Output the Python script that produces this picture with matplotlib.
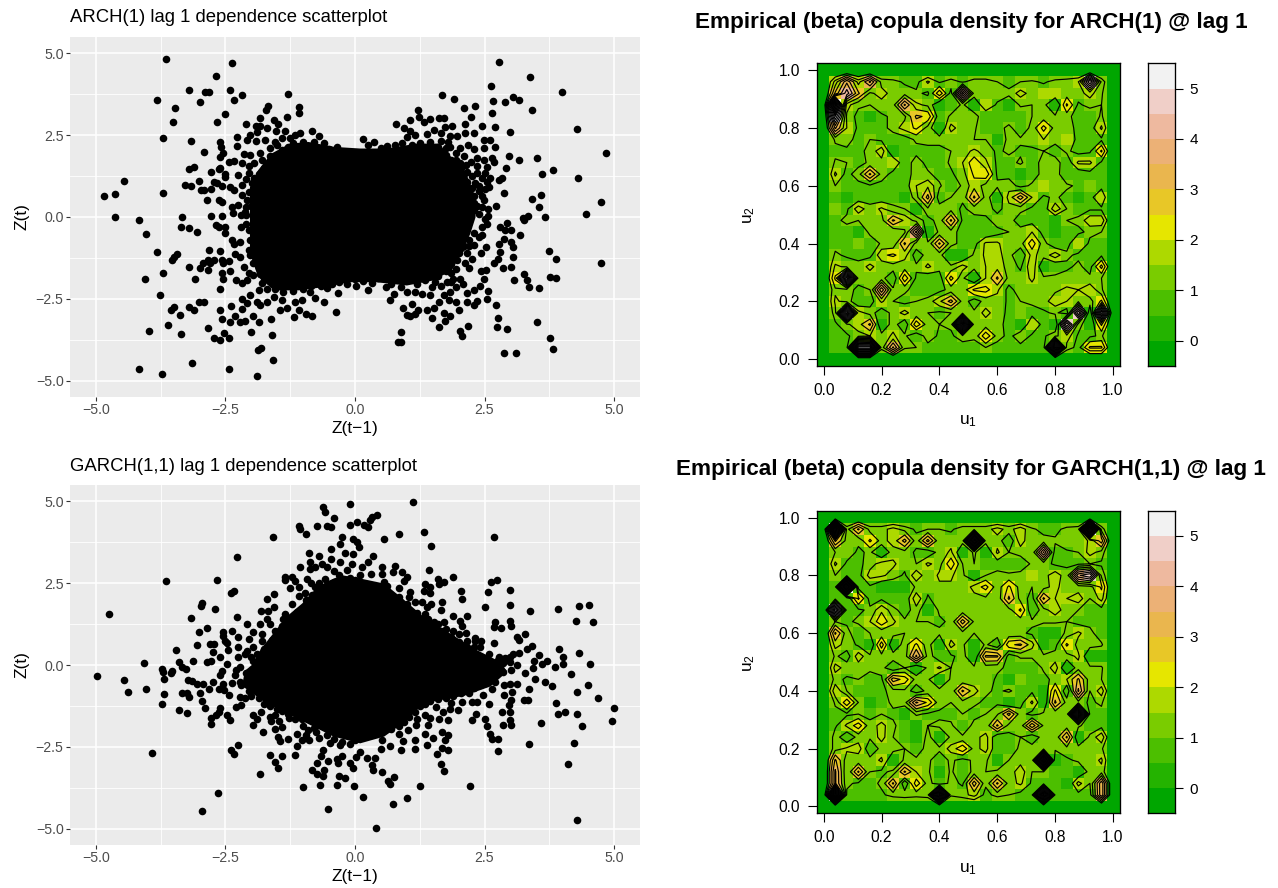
import numpy as np
import matplotlib
matplotlib.use("Agg")
import matplotlib.pyplot as plt
from matplotlib.colors import ListedColormap, BoundaryNorm

plt.rcParams['font.family'] = ['Liberation Sans', 'DejaVu Sans']
plt.rcParams['mathtext.default'] = 'regular'

W, H = 1278, 888

# ---------- scatter data: every separately visible point ----------
arch_points = [
(-3.65,4.83),(-2.37,4.72),(-2.68,4.31),(-3.20,3.87),(-2.89,3.82),(-2.82,3.82),(-2.41,3.87),(-2.19,3.74),(-3.82,3.57),(-3.48,3.34),
(-3.0,3.5),(-2.34,3.56),(-2.5,3.15),(-3.52,2.9),(-2.67,2.89),(-3.70,2.42),(-3.17,2.33),(-2.6,2.29),(-2.59,2.15),(-2.91,1.98),
(-2.54,1.95),(-2.6,1.83),(-2.44,1.69),(-2.34,1.71),(-3.11,1.54),(-3.2,1.46),(-2.78,1.36),(-2.63,1.46),(-2.6,1.51),(-2.5,1.32),
(-2.5,1.21),(-4.45,1.11),(-4.63,.69),(-4.85,.63),(-3.71,.73),(-3.29,.98),(-3.16,.96),(-3.02,1.11),(-2.98,.83),(-2.92,.81),
(-2.77,.87),(-2.73,1.08),(-2.66,1.03),(-2.57,.95),(-2.41,.93),(-2.34,.83),(-2.86,.52),(-2.63,.52),(-2.57,.47),(-4.64,.01),
(-3.34,.01),(-2.77,.04),(-2.57,.03),(-4.16,-.09),(-2.37,.3),(-2.36,.13),(-2.1,2.85),(-1.92,2.79),(-1.84,2.77),(-1.84,3.03),
(-1.72,3.26),(-1.67,3.4),(-1.56,2.95),(-1.49,2.85),(-1.53,2.64),(-1.7,2.71),(-1.29,3.76),(-1.08,3.35),(-1.09,3.17),(-1.31,3.05),
(-1.36,2.64),(-2.27,2.44),(-2.28,2.17),(-2.08,2.36),(-2.03,2.5),(-1.89,2.61),(-1.92,2.31),(-1.73,2.36),(-1.41,2.41),(-1.51,2.2),
(-1.15,2.51),(-1.06,2.58),(-.83,2.64),(-.7,2.48),(-.51,2.08),(-.15,1.97),(-2.15,1.93),(-2.18,1.64),(-2.02,1.9),(-1.83,1.95),
(-2.25,1.29),(-2.05,1.34),(-2.18,.98),(-1.99,1.03),(-2.18,.67),(-2.08,.52),(-2.25,.37),(-2.12,.16),
(2.77,4.74),(3.38,4.29),(2.63,3.99),(3.99,3.83),(1.67,3.74),(1.91,3.6),(2.1,3.32),(2.32,3.38),(2.66,3.54),(2.89,3.51),
(3.05,3.66),(3.17,3.56),(3.42,3.28),(2.64,3.17),(4.29,2.7),(2.46,2.79),(2.7,2.74),(3.0,2.59),(4.84,1.95),(2.97,1.85),
(3.17,1.74),(3.51,1.79),(2.92,1.51),(3.82,1.44),(3.6,1.3),(4.31,1.18),(2.77,1.13),(2.84,1.18),(2.87,.72),(3.58,.68),
(3.41,.55),(3.55,.32),(4.74,.45),(4.45,.08),(2.73,.34),(2.56,.23),(2.56,.03),(3.67,.01),(3.34,.03),(3.25,-.04),
(1.21,3.27),(1.24,3.07),(1.07,2.97),(.79,2.84),(.94,2.71),(1.07,2.64),(1.33,2.89),(1.45,2.99),(1.62,3.01),(1.72,3.02),
(1.73,2.76),(1.88,2.79),(2.13,2.85),(2.23,3.05),(2.13,2.56),(2.29,2.56),(.15,2.39),(.37,2.28),(.62,2.17),(.78,2.2),
(1.0,2.43),(1.16,2.51),(1.39,2.53),(1.52,2.66),(1.65,2.56),(1.65,2.31),(1.84,2.46),(1.97,2.46),(1.84,2.15),(2.03,2.1),
(2.19,2.2),(2.29,2.07),(2.48,2.36),(2.6,2.34),(2.71,2.15),(2.48,2.1),(2.64,1.8),(2.68,1.69),(2.36,1.8),(2.48,1.74),
(2.55,1.54),(1.94,1.74),(2.03,1.64),(2.23,1.69),(2.16,1.39),(2.36,1.34),(2.55,1.08),(2.58,.93),(2.16,1.08),(2.32,1.05),
(2.19,.78),(2.39,.78),(2.48,.52),(2.29,.42),(1.97,1.34),(2.03,.83),
(-4.03,-.53),(-3.35,-.3),(-3.2,-.35),(-3.04,-.45),(-2.68,-.25),(-2.63,-.3),(-2.5,-.3),(-2.5,-.48),(-2.37,-.7),(-2.34,-.81),
(-2.21,-.76),(-2.02,-.7),(-3.82,-1.07),(-3.44,-1.14),(-3.49,-1.21),(-3.53,-1.32),(-2.81,-1.01),(-2.61,-1.04),(-2.31,-1.14),(-2.21,-1.21),
(-2.05,-1.01),(-2.02,-1.16),(-2.83,-1.32),(-2.73,-1.3),(-2.79,-1.42),(-2.57,-1.3),(-2.44,-1.35),(-2.54,-1.42),(-3.21,-1.53),(-2.94,-1.42),
(-3,-1.57),(-2.84,-1.62),(-3.71,-1.7),(-4.05,-1.89),(-3.08,-1.89),(-2.41,-1.64),(-2.56,-1.72),(-2.54,-1.89),(-2.29,-1.93),(-2.18,-2.03),
(-2.08,-1.93),(-1.96,-1.78),(-2.15,-1.52),(-1.96,-1.42),(-1.83,-1.73),(-3.76,-2.39),(-2.6,-2.21),(-2.02,-2.39),(-2.18,-2.52),(-2.08,-2.64),
(-2.18,-2.8),(-1.86,-2.24),(-1.89,-2.59),(-1.83,-2.69),(-1.8,-2.03),(-3.01,-2.6),(-2.92,-2.61),(-3.21,-2.76),(-3.1,-2.85),(-3.49,-2.75),
(-3.56,-2.85),(-2.6,-2.83),(-2.39,-2.73),(-3.38,-3.0),(-2.57,-3.13),(-2.41,-3.2),(-2.32,-3.02),(-3.61,-3.3),(-3.36,-3.57),(-3.98,-3.49),
(-2.83,-3.4),(-2.73,-3.71),(-2.6,-3.76),(-2.52,-3.54),(-2.44,-3.7),(-2.21,-3.2),(-2.12,-3.17),(-1.96,-3.03),(-1.86,-3.22),(-2.0,-3.51),
(-1.63,-3.12),(-1.6,-3.61),(-1.87,-4.05),(-1.81,-3.99),(-1.58,-4.36),(-3.14,-4.46),(-4.16,-4.65),(-3.72,-4.81),(-2.44,-4.65),(-1.9,-4.86),
(-1.7,-2.59),(-1.57,-2.44),(-1.41,-2.54),(-1.44,-2.83),(-1.31,-2.77),(-1.18,-3.07),(-1.09,-2.85),(-.94,-2.95),(-.83,-3.01),(-.37,-2.91),
(-.6,-2.6),(-.77,-2.49),(-1.15,-2.59),(-1.02,-2.54),(-.33,-2.32),(-.54,-2.18),(-1.57,-2.08),(-1.38,-2.29),(-.86,-2.29),
(4.75,-1.41),(3.75,-1.05),(3.88,-1.27),(3.77,-1.83),(3.88,-1.86),(3.27,-1.75),(3.32,-1.91),(3.35,-2.13),(3.56,-2.16),(3.51,-3.2),
(3.76,-3.71),(3.82,-4.03),(2.87,-4.16),(3.11,-4.16),(2.93,-3.43),(2.74,-3.36),(2.76,-3.08),(2.72,-2.68),(2.55,-2.5),(2.57,-2.26),
(2.48,-1.9),(2.42,-2.1),(2.3,-2.24),(2.16,-2.32),(2.36,-2.56),(2.3,-2.68),(2.17,-2.6),(2.43,-1.64),(2.52,-1.62),(2.86,-1.56),
(3.02,-1.53),(3.06,-1.93),(3.04,-1.21),(2.79,-1.08),(2.76,-1.27),(2.69,-1.42),(3.02,-.76),(3.05,-.91),(2.77,-.81),(2.88,-.68),
(2.52,-.91),(2.43,-1.09),(2.16,-1.11),(2.13,-1.42),(2.26,-1.27),(2.1,-.89),(2.45,-.55),(3.18,-.55),(3.02,-.40),(2.8,-.3),
(2.9,-.4),(2.93,-.19),(3.27,-.09),(1.97,-1.31),(1.94,-1.6),(2.03,-1.88),(2.08,-2.05),(1.94,-2.13),(1.84,-2.29),(1.81,-2.54),
(1.94,-2.59),(2.0,-2.85),(1.62,-2.59),(1.52,-2.78),(1.39,-2.85),(1.72,-2.93),(1.84,-3.03),(1.49,-3.1),(1.74,-3.18),(1.62,-3.36),
(2.02,-3.48),(2.18,-3.34),(2.07,-3.65),(1.22,-2.83),(1.16,-2.95),(1.07,-3.03),(1.0,-3.0),(1.1,-2.67),(.93,-2.78),(.89,-3.52),
(.88,-3.83),(.83,-3.83),(.67,-2.54),(.75,-2.34),(.59,-2.13),(.26,-2.23),(.01,-2.12),(.33,-2.01),(.88,-2.13),(1.0,-2.29),
(1.16,-2.29),(1.29,-2.34),(1.49,-2.13),(1.45,-2.39),(1.71,-2.39),(1.78,-1.98),(1.36,-1.93),
# dense ring around the solid mass
(1.75,1.9),(1.85,1.75),(1.9,1.45),(2.0,1.2),(2.1,1.3),(2.25,1.25),(2.45,1.2),(2.5,1.35),(2.1,.95),(2.25,.9),(2.4,.95),(2.5,.85),
(2.15,.65),(2.3,.65),(2.45,.65),(2.2,.45),(2.35,.35),(2.45,.3),(2.3,.2),(2.4,.1),(1.8,2.3),(1.6,2.15),(1.45,2.3),(1.25,2.25),
(1.1,2.2),(.9,2.25),(.5,2.1),(.25,2.2),(1.75,2.1),(1.95,1.95),(2.1,1.85),(2.15,1.6),(2.35,1.55),(2.05,1.5),(2.6,1.2),(1.95,.85),
(-1.6,1.6),(-1.75,1.5),(-1.85,1.3),(-1.95,1.2),(-2.1,1.15),(-1.95,.9),(-2.05,.75),(-1.85,.85),(-1.75,1.1),(-1.9,.65),(-2.0,.35),(-1.9,.3),
(-2.1,.3),(-1.95,.1),(-1.85,.05),(-2.1,.05),(-2.2,.05),(-1.5,1.9),(-1.65,1.85),(-1.4,2.05),(-1.3,2.15),(-1.2,2.25),(-1.65,2.1),(-1.8,1.75),
(-1.95,1.65),(-2.05,1.55),(-1.55,2.3),(-1.0,2.3),(-.8,2.3),(-.6,2.25),(-.35,2.15),(-1.25,2.4),
(-1.9,-.45),(-2.05,-.4),(-1.95,-.2),(-2.1,-.2),(-2.2,-.3),(-1.85,-.7),(-1.95,-.85),(-1.85,-1.0),(-1.95,-1.15),(-1.85,-1.3),(-1.75,-1.4),(-1.7,-1.6),
(-1.6,-1.8),(-1.75,-1.85),(-1.65,-1.95),(-1.55,-2.2),(-1.4,-2.15),(-1.2,-2.25),(-1.0,-2.2),(-.85,-2.1),(-.65,-2.1),(-.45,-2.05),(-.3,-2.0),(-.15,-2.05),
(-1.7,-2.2),(-1.85,-1.55),(-2.05,-1.7),
(.0,-1.9),(.15,-1.95),(.45,-1.85),(.6,-1.85),(.75,-1.8),(.95,-1.85),(1.1,-1.85),(1.2,-2.05),(1.3,-1.85),(1.5,-1.8),(1.6,-1.8),(1.75,-1.65),
(1.85,-1.7),(1.85,-1.45),(2.0,-1.1),(2.05,-.95),(2.2,-.7),(2.3,-.85),(2.4,-.6),(2.3,-.5),(2.45,-.3),(2.55,-.2),(2.5,-.05),(2.2,-.9),
(1.55,-2.0),(.7,-2.05),(1.65,-2.1),(1.9,-1.9),(1.85,-2.0),(2.2,-1.55),
]
# outline of the solid mass where points overlap completely
arch_core_x = [-2.0,-2.0,-1.85,-1.6,-1.25,-.9,-.4,.1,.6,1.2,1.6,1.9,2.15,2.3,2.3,2.2,2.05,1.85,1.5,1.0,.4,-.1,-.6,-1.1,-1.55,-1.85,-2.0]
arch_core_y = [.1,.9,1.4,1.9,2.2,2.25,2.1,2.05,2.05,2.2,2.2,1.7,1.2,.6,.0,-.5,-1.0,-1.6,-1.9,-2.05,-1.95,-1.95,-2.1,-2.2,-2.2,-1.8,-1.1]

garch_points = [
(-4.75,1.56),(-3.65,2.58),(-2.67,2.6),(-2.28,3.29),(-1.59,3.9),(-2.34,2.27),(-2.39,2.19),(-2.96,1.88),(-2.97,1.8),(-2.7,1.71),
(-3.16,1.43),(-2.27,1.47),(-2.85,1.13),(-3.01,1.02),(-2.37,1.05),(-2.09,1.25),(-2.54,1.0),(-2.54,.9),(-2.5,.74),(-2.47,.66),
(-3.04,.62),(-2.79,.63),(-2.73,.63),(-3.45,.46),(-2.74,.39),(-2.45,.47),(-3.13,.11),(-4.08,.06),(-3.4,.08),(-3.34,-.07),
(-3.27,-.12),(-3.73,-.12),(-3.53,-.19),(-2.86,.08),(-2.77,.11),(-2.6,.23),(-2.47,.03),(-2.21,-.07),(-2.57,-.17),(-2.25,.85),
(-2.05,.79),(-1.96,1.0),(-1.83,1.25),(-1.81,1.66),(-1.67,1.66),(-1.57,1.76),(-1.7,2.02),(-1.57,2.17),(-1.22,1.86),(-1.35,1.56),
(-1.12,1.61),(-1.39,1.41),(-1.7,1.41),(-1.65,1.25),(-2.25,.54),(-2.12,.34),(-2.25,.23),(-2.08,.44),(-1.96,.54),(-1.8,.74),
(-1.96,.13),(-1.36,2.7),(-1.36,2.6),(-1.22,2.68),(-1.15,2.58),(-1.25,2.35),(-1.09,2.37),(-1.09,2.12),(-.96,2.19),(-.83,2.15),
(-.77,2.37),(-.93,2.63),(-1.06,3.0),(-.86,3.14),(-.86,2.93),(-.77,2.98),(-.89,3.43),(-.7,3.34),(-.64,3.09),(-.54,2.98),
(-.46,3.53),(-.46,3.24),(-.41,2.88),(-.28,3.14),(-.19,3.41),(-.28,3.7),(-.26,3.92),(-.09,4.29),(-.1,4.92),(-1.09,4.26),
(-1.07,4.15),(-.95,4.0),(-.73,4.26),(-.54,4.26),(-.46,4.21),(-.62,4.82),(-.57,4.66),(-.41,4.49),(-.57,2.63),(-.41,2.53),
(1.11,4.98),(.42,4.58),(.33,4.51),(.28,4.43),(.26,4.23),(.17,4.29),(.04,4.36),(.84,4.0),(.56,3.84),(1.34,4.05),
(1.47,3.65),(2.69,3.9),(-.03,3.85),(.04,3.75),(.08,3.62),(-.03,3.39),(.34,3.33),(.26,3.14),(.13,2.98),(.53,3.0),
(.78,3.03),(.73,2.83),(.91,2.83),(1.0,2.68),(.94,2.58),(1.42,2.91),(.3,2.78),(.53,2.78),(.55,2.53),(.62,2.42),
(1.89,2.7),(1.61,2.63),(1.62,2.47),(1.71,2.53),(1.36,2.47),(1.45,2.39),(1.45,2.19),(1.33,2.25),(2.63,2.55),(2.74,2.6),
(2.05,2.27),(2.07,2.02),(2.56,2.23),(2.99,2.29),(2.99,1.84),(2.5,1.76),(3.37,1.65),(3.92,1.7),(4.32,1.79),(4.51,1.84),
(4.27,1.35),(4.59,1.3),(3.94,.49),(4.32,.37),(4.54,.03),(4.01,.23),(4.01,.03),(3.85,-.07),(3.71,.11),(3.61,.03),
(3.55,.32),(3.45,.11),(3.44,-.09),(3.42,.57),(3.31,.49),(3.29,.95),(3.13,.87),(3.16,.76),(3.16,.37),(3.04,.34),
(3.0,.08),(3.13,.01),(2.77,.23),(2.68,.66),(2.43,.74),(2.32,.82),(2.31,.74),(2.71,1.32),(2.68,1.15),(2.81,1.12),
(2.99,1.33),(3.01,1.2),(2.16,1.51),(1.9,1.51),(2.03,1.33),(2.07,1.18),(1.72,1.3),(1.68,1.91),(1.66,1.68),(1.47,1.86),
(1.29,1.91),(1.15,1.91),(1.39,1.76),(1.36,1.56),(1.52,1.3),(1.9,1.05),(2.15,.97),(1.65,1.05),(1.42,1.25),(2.42,.54),
(2.16,.74),(2.58,.34),(2.48,.03),(2.16,.54),(1.07,2.24),(.84,2.35),(1.04,2.07),(.84,2.07),
(-4.97,-.35),(-4.45,-.47),(-4.39,-.84),(-4.03,-.74),(-3.72,-1.2),(-3.68,-.9),(-3.69,-.44),(-3.71,-.21),(-3.55,-.23),(-3.4,-1.38),
(-3.24,-1.48),(-3.33,-.85),(-3.24,-.85),(-3.2,-.98),(-3.23,-.45),(-3.15,-.5),(-3.05,-.59),(-2.94,-.59),(-3,-.86),(-2.96,-1.11),
(-2.89,-1.3),(-2.75,-.52),(-2.81,-.72),(-2.6,-.32),(-2.62,-.72),(-2.54,-.57),(-2.52,-.77),(-2.44,-.91),(-2.37,-.54),(-2.31,-.32),
(-2.21,-.52),(-2.6,-1.31),(-2.63,-1.44),(-2.78,-1.61),(-2.77,-1.79),(-2.68,-1.54),(-2.47,-1.52),(-2.42,-1.69),(-2.3,-1.28),(-2.2,-1.21),
(-2.21,-.98),(-2.12,-1.01),(-1.97,-1.54),(-1.9,-1.64),(-1.96,-1.82),(-1.81,-1.44),(-1.78,-2.05),(-1.65,-1.59),(-1.62,-1.72),(-1.54,-1.54),
(-1.47,-1.72),(-1.41,-1.9),(-1.54,-1.95),(-1.49,-2.2),(-1.45,-2.33),(-1.3,-2.25),(-2.25,-2.43),(-2.39,-2.61),(-2.34,-2.73),(-3.91,-2.68),
(-2.65,-3.91),(-2.96,-4.46),(-1.84,-3.34),(-1.65,-2.74),(-1.55,-2.96),(-1.48,-3.16),(-1.4,-2.78),(-1.15,-2.74),(-1.11,-2.49),(-1.12,-2.12),
(-1.02,-2.3),(-.94,-2.15),(-.88,-2.29),(-.69,-2.22),(-.48,-2.37),(-.62,-2.61),(-.65,-2.79),(-.73,-2.98),(-.53,-2.94),(-.83,-3.22),
(-.73,-3.34),(-.59,-3.2),(-.62,-3.4),(-.35,-2.88),(-.32,-3.0),(-.25,-2.78),(-.3,-3.39),(-.2,-3.44),(-.67,-3.68),(-.35,-3.68),
(-1.0,-3.74),(-.52,-4.39),(-.09,-2.98),(-.28,-2.45),(-.8,-1.93),(-1.02,-1.66),(-1.28,-1.62),(-1.25,-1.33),
(.41,-4.97),(4.29,-4.75),(4.11,-3.02),(-.01,-3.69),(.15,-4.02),(.74,-4.24),(1.01,-4.07),(1.26,-3.71),(2.21,-3.71),(.75,-3.42),
(.64,-3.55),(.67,-3.65),(.52,-3.27),(.34,-3.22),(.33,-3.07),(.39,-2.84),(.24,-2.84),(-.03,-3.14),(1.72,-3.24),(1.65,-3.01),
(1.58,-2.71),(1.68,-2.54),(1.79,-2.6),(1.73,-2.3),(1.79,-2.15),(1.67,-2.05),(1.51,-2.22),(1.38,-2.45),(1.36,-2.1),(1.41,-1.84),
(1.15,-2.3),(1.15,-2.56),(.88,-2.59),(.68,-2.47),(.5,-2.56),(.1,-2.66),(.01,-2.81),(.92,-2.33),(.52,-2.28),(.3,-2.15),
(.84,-2.1),(1.02,-2.0),(1.18,-1.82),(1.2,-1.64),(1.36,-1.54),(1.45,-1.61),(1.63,-1.64),(1.8,-1.67),(1.7,-1.44),(1.98,-1.39),
(1.84,-1.33),(1.57,-1.28),(2.25,-1.68),(2.34,-1.49),(2.5,-1.66),(2.55,-1.86),(2.61,-2.12),(2.64,-2.27),(2.75,-2.25),(2.76,-2.62),
(3.35,-2.41),(3.59,-1.77),(4.23,-2.37),(4.38,-1.86),(4.29,-1.49),(4.06,-1.43),(3.92,-1.49),(3.87,-1.15),(4.68,-1.02),(4.99,-1.32),
(4.95,-1.7),(4.49,-.6),(4.29,-.84),(4.17,-.27),(3.81,-.65),(3.66,-.52),(3.48,-.44),(3.35,-.72),(3.28,-.23),(3.27,-1.08),
(3.34,-1.08),(3.02,-.16),(3.0,-.57),(2.88,-.6),(3.13,-.57),(3.03,-.83),(2.88,-.91),(3.01,-1.08),(2.97,-1.23),(2.83,-1.45),
(3.0,-1.45),(2.99,-1.69),(3.02,-1.84),(2.86,-1.84),(2.47,-.93),(2.58,-1.18),(2.35,-1.13),(2.26,-1.13),(2.07,-1.13),(2.65,-.72),
(2.71,-.52),(2.23,-.42),(2.42,-.62),
# dense ring around the solid mass
(-1.75,.5),(-1.6,.75),(-1.5,.9),(-1.35,1.05),(-1.2,1.2),(-1.05,1.3),(-1.55,1.05),(-1.4,1.2),(-1.2,1.4),(-1.0,1.6),(-.9,1.85),(-.8,1.95),
(-.75,2.1),(-.65,2.3),(-.5,2.35),(-.4,2.4),(-.25,2.5),(-.1,2.65),(-.3,2.75),(-.7,2.5),(-1.9,.35),(-1.85,.15),(-2.0,.25),(-1.8,.95),
(-1.65,.55),(-.15,2.9),(-.05,3.1),(.1,2.75),(-.85,2.5),(-.95,2.0),
(0,2.6),(.1,2.45),(.2,2.35),(.35,2.3),(.5,2.2),(.65,2.1),(.7,1.95),(.85,2.0),(1.0,1.85),(1.05,1.65),(1.2,1.6),(1.25,1.4),
(1.4,1.4),(1.5,1.15),(1.6,1.25),(1.7,.95),(1.85,.85),(2.0,.7),(2.2,.35),(2.3,.3),(2.3,.55),(1.75,1.1),(2.0,.95),(2.4,.15),
(2.55,.1),(2.65,.0),(2.75,.15),(2.9,.2),(2.85,.05),(3.0,.25),
(-2.2,-.6),(-2.0,-.95),(-1.85,-1.0),(-1.75,-1.2),(-1.65,-1.25),(-1.5,-1.35),(-1.4,-1.4),(-1.3,-1.5),(-1.15,-1.65),(-1.0,-1.85),(-.9,-2.0),(-.75,-2.05),
(-.55,-2.15),(-.4,-2.25),(-.25,-2.35),(-.1,-2.4),(.0,-2.3),(-1.85,-.75),(-2.05,-.8),(-1.55,-1.15),(-2.3,-.15),(-2.1,-.25),
(.1,-2.2),(.2,-2.1),(.35,-2.05),(.55,-2.0),(.7,-1.95),(.85,-1.85),(.95,-1.75),(1.05,-1.6),(1.15,-1.45),(1.25,-1.25),(1.35,-1.2),(1.45,-1.1),
(1.6,-1.05),(1.75,-1.0),(1.9,-.95),(2.05,-.85),(2.2,-.85),(2.3,-.7),(2.45,-.45),(2.55,-.35),(2.65,-.3),(2.7,-.1),(2.85,-.2),(1.85,-1.15),
(2.2,-.6),(2.5,-.15),
]
garch_core_x = [-1.95,-1.8,-1.55,-1.3,-1.0,-.8,-.55,-.25,.1,.55,.9,1.3,1.75,2.3,2.8,2.9,2.6,2.1,1.3,1.0,.55,.1,-.4,-1.05,-1.7,-2.15,-2.1]
garch_core_y = [.0,.45,.95,1.45,1.85,2.2,2.5,2.7,2.6,2.45,2.0,1.45,1.0,.45,.05,-.2,-.62,-.9,-1.13,-1.64,-2.15,-2.35,-2.15,-1.64,-1.13,-.62,-.2]

scatter_ticks = [-5.0, -2.5, 0.0, 2.5, 5.0]
scatter_minor = [-3.75, -1.25, 1.25, 3.75]

# ---------- copula density estimates on the inner grid u = 0.04 ... 0.96, top row u2 = 0.96 ----------
arch_density = [
[1.7,3.4,1.8,3.1,1.3,1.2,.9,.8,1.6,.9,1.3,.9,1.3,1.3,1.0,.7,1.0,1.1,.9,1.2,1.3,1.5,4.5,1.4],
[2.6,4.3,2.6,1.4,1.7,1.3,1.3,1.1,.9,2.4,.8,4.3,1.3,1.0,1.3,1.2,1.7,1.3,1.5,1.5,1.2,1.3,1.7,1.1],
[9.0,1.7,1.1,1.0,1.3,1.3,3.1,1.6,1.4,.4,.6,1.1,.4,1.5,.9,.3,1.1,1.0,1.2,.2,2.1,.9,1.2,1.0],
[5.0,1.4,.8,.4,.9,1.1,1.4,2.6,2.4,.6,1.1,1.3,1.3,.5,.9,.5,.5,1.0,1.2,1.1,1.2,.7,.5,1.1],
[3.1,1.5,.9,.9,.7,1.3,1.7,2.1,1.3,.3,1.7,1.2,1.1,.5,.7,1.2,.5,1.2,2.2,1.3,1.3,.8,.7,1.6],
[1.1,1.2,.8,1.0,.9,.5,.7,1.1,1.2,1.3,1.1,1.1,1.0,1.0,.4,1.2,1.1,1.2,1.5,1.2,1.5,.8,.8,.9],
[.8,.9,.8,1.2,1.8,.4,.7,.8,.8,.7,1.0,1.3,1.6,1.3,.9,1.1,.9,.9,1.0,.7,1.1,.8,.9,2.1],
[1.1,1.0,.8,1.1,1.3,1.5,.6,1.3,.8,.7,1.1,1.5,2.4,1.6,.9,.8,1.1,.6,1.3,1.3,.6,1.6,1.6,.9],
[1.6,.8,1.3,2.6,1.3,.8,.5,1.4,1.1,.8,.9,1.3,2.1,2.4,.9,.8,.4,.7,1.2,1.3,.5,.6,.8,.9],
[1.0,.9,.8,.9,.8,.7,.7,1.5,1.9,1.1,.5,1.1,1.8,1.3,1.1,1.3,.8,1.1,1.5,1.3,1.1,.9,1.0,.8],
[.8,.2,.6,.7,.6,.8,.4,1.3,2.7,.6,1.0,1.1,2.6,1.3,.4,1.7,2.8,1.5,.9,1.1,.8,.4,.8,1.5],
[1.0,.9,1.8,1.2,1.6,1.1,1.0,.4,1.4,1.3,1.3,.9,1.2,1.3,.8,1.3,1.2,.9,.6,1.9,1.0,.8,.9,.9],
[.9,1.1,1.0,1.1,1.3,2.6,1.9,1.3,.8,1.2,2.6,.9,.8,.8,1.3,1.3,.6,.8,.6,.3,1.0,1.1,1.9,1.9],
[.9,.8,.2,1.2,1.1,1.0,1.4,3.7,.4,1.1,1.3,.7,.8,.5,.8,1.0,1.3,1.5,.8,.3,.9,.9,1.1,1.0],
[.8,.7,1.0,.5,1.1,1.1,2.6,1.3,1.1,2.6,1.2,.8,.8,1.6,1.6,1.1,1.3,2.3,1.2,.5,.8,1.5,.9,.8],
[1.1,.9,.9,.8,1.9,2.1,1.7,.7,1.2,1.2,.3,.3,1.1,1.6,1.7,1.2,.5,1.7,1.2,1.8,1.1,.9,.8,.9],
[1.6,1.4,1.1,1.7,1.1,1.3,1.2,1.1,1.6,1.2,1.1,1.7,1.2,1.5,1.8,1.3,.9,1.9,.4,.5,.9,1.1,.8,2.2],
[2.1,6.5,1.3,1.1,1.2,.5,2.4,.9,.6,.7,2.2,1.1,.3,1.5,2.6,1.3,1.2,1.6,1.1,1.2,1.2,1.2,1.1,1.0],
[1.4,1.3,.8,1.0,3.4,1.1,1.1,.8,.6,.8,1.2,1.2,2.1,2.2,1.6,.8,1.3,1.3,1.3,1.4,1.6,1.5,1.9,1.1],
[1.6,1.3,.5,.7,1.6,1.0,.8,1.0,1.2,1.9,2.7,1.3,.7,1.2,1.3,.9,1.0,1.1,1.3,1.8,1.5,1.4,1.3,2.1],
[1.3,6.5,1.7,1.3,.6,1.2,1.7,1.1,1.0,.9,1.0,1.3,1.1,1.7,1.2,.9,1.0,.8,.9,1.1,.7,4.5,.4,6.0],
[.9,1.4,1.8,2.6,.4,1.3,.5,2.4,1.2,1.0,1.1,7.5,1.1,1.2,1.3,.7,.3,1.5,.8,.3,4.5,1.3,.4,2.1],
[.8,.9,1.3,1.5,1.2,1.6,1.1,.5,1.3,.9,.9,1.3,1.1,2.4,1.3,.8,1.4,.9,.9,1.4,1.8,.9,.9,1.1],
[.7,.8,8.5,8.5,1.2,3.1,1.1,1.0,.8,.8,.7,.7,.8,1.0,.7,.8,.8,.8,.7,7.5,1.3,.8,2.1,2.1],
]
garch_density = [
[9.0,1.3,2.6,1.3,1.3,1.7,1.3,.9,1.0,1.0,.9,1.3,1.3,1.3,1.7,1.3,1.8,1.1,.8,.8,1.2,1.3,9.0,1.3],
[2.6,1.3,1.1,2.1,1.3,1.7,2.7,1.2,2.7,1.1,1.3,1.2,8.5,1.2,1.3,.5,1.8,1.0,1.2,1.1,1.4,1.1,1.6,2.8],
[1.0,1.3,.9,1.1,.4,1.3,1.3,.9,.6,1.2,1.6,.4,1.1,.4,1.6,1.0,1.2,1.1,3.6,.7,.9,1.0,1.7,1.3],
[1.6,.9,.8,1.3,1.7,1.6,1.2,1.0,1.6,1.3,2.4,1.0,1.0,.9,.7,.6,.6,1.1,1.2,.9,.9,.9,1.0,.9],
[1.0,.8,.8,1.7,1.6,1.3,.9,1.9,1.1,1.6,1.6,1.1,.4,1.0,1.2,1.1,1.2,1.5,1.3,1.8,1.2,3.9,4.5,1.4],
[.8,8.5,.8,.9,.4,.4,.4,1.1,1.2,1.4,1.4,1.1,1.7,2.2,1.2,2.1,1.3,1.0,1.3,1.7,1.1,1.2,1.3,2.1],
[.8,.5,2.1,.8,.9,.5,.5,1.9,.9,1.4,1.1,1.1,1.3,1.4,1.1,2.6,1.3,.8,2.6,1.5,1.5,1.8,1.0,1.7],
[5.0,.8,.9,1.1,1.9,1.2,.7,1.3,.4,1.1,1.0,1.1,1.3,1.1,1.1,1.3,2.1,.5,1.3,1.8,1.2,1.0,.8,.8],
[1.0,.9,1.1,1.5,2.4,1.6,1.1,1.0,1.0,.9,1.1,2.8,1.4,1.2,1.2,1.3,1.2,1.1,1.1,1.1,1.0,.8,.8,.9],
[2.6,1.2,.6,1.0,1.1,1.2,1.0,1.1,1.2,1.1,1.2,1.3,1.0,1.2,1.3,1.1,1.1,.9,.3,.3,1.2,1.6,1.2,.6],
[1.7,1.3,.9,.4,2.3,.4,1.3,2.1,1.2,.4,1.7,1.1,.4,1.1,.5,2.4,2.6,1.7,.4,.8,2.1,1.3,1.2,1.1],
[1.1,.7,1.8,1.1,1.3,1.3,1.2,3.1,1.3,.6,.9,1.2,.4,2.6,2.6,.7,1.1,1.1,1.1,1.2,1.3,1.6,.4,.3],
[1.7,1.3,1.2,1.1,1.2,.5,1.0,.4,1.1,1.6,1.0,1.1,1.1,1.2,1.1,.9,.5,.5,1.1,1.8,.3,1.3,1.1,1.1],
[1.2,.9,1.0,.8,.9,2.8,2.3,1.3,1.1,.2,1.1,1.0,1.2,1.3,.9,.4,1.0,.8,.8,1.2,1.5,2.6,1.2,1.0],
[1.9,1.0,.8,.7,.8,1.3,1.4,.6,1.2,1.2,1.1,2.6,1.7,1.1,.9,1.1,.7,.9,.4,2.1,.5,3.1,1.0,1.8],
[1.1,2.4,1.0,.4,.8,1.1,1.3,3.1,2.4,1.2,1.0,1.3,1.1,.9,.9,.2,.8,1.6,.4,2.6,1.3,1.3,.9,1.1],
[.8,.9,1.0,.8,1.0,.9,.3,1.1,.9,.9,.8,1.0,.8,1.0,1.4,2.7,1.2,.8,1.1,1.1,1.1,7.5,.9,.8],
[.9,1.6,2.3,1.2,1.7,1.1,.7,.3,1.0,1.1,1.1,.5,1.2,1.1,2.6,1.3,1.2,2.9,1.4,1.1,1.2,1.1,.7,.8],
[1.3,.5,1.2,1.1,1.7,1.0,.8,.3,1.2,.4,1.1,1.1,1.3,1.7,.5,.8,1.0,.5,1.3,1.1,2.6,.4,1.1,1.9],
[1.3,1.6,1.8,.5,1.2,1.2,1.0,.7,1.2,1.1,1.7,2.4,1.3,1.7,.5,.7,1.1,1.3,1.3,1.1,1.3,1.2,1.3,1.1],
[2.6,1.2,1.1,1.2,1.6,.4,1.1,1.1,1.1,.7,1.1,.8,1.1,1.1,.4,1.0,1.3,1.1,8.5,.4,.9,1.1,1.2,1.6],
[3.1,1.0,2.6,1.0,.9,1.1,2.6,1.5,1.1,.4,1.1,.5,1.2,1.0,1.1,1.2,1.8,1.0,1.0,.8,.8,.4,1.2,1.3],
[3.1,1.1,.9,.8,1.1,2.6,.5,2.3,1.3,.5,1.2,.9,2.8,1.1,2.6,1.3,1.6,.9,.7,.8,.3,1.7,1.0,3.4],
[9.0,.9,.8,.8,.9,1.2,1.3,1.2,1.3,7.5,1.1,1.3,1.7,.8,1.2,1.0,.8,.9,7.5,.9,.9,.8,.8,3.4],
]
u_grid = [0.00,0.04,0.08,0.12,0.16,0.20,0.24,0.28,0.32,0.36,0.40,0.44,0.48,0.52,0.56,0.60,0.64,0.68,0.72,0.76,0.80,0.84,0.88,0.92,0.96,1.00]
u_edges = [-0.02,0.02,0.06,0.10,0.14,0.18,0.22,0.26,0.30,0.34,0.38,0.42,0.46,0.50,0.54,0.58,0.62,0.66,0.70,0.74,0.78,0.82,0.86,0.90,0.94,0.98,1.02]
u_ticks = [0.0, 0.2, 0.4, 0.6, 0.8, 1.0]
fill_levels = [-0.5,0.0,0.5,1.0,1.5,2.0,2.5,3.0,3.5,4.0,4.5,5.0,5.5]
line_levels = [1.0,1.5,2.0,2.5,3.0,3.5,4.0,4.5,5.0,5.5,6.0,6.5,7.0,7.5,8.0,8.5]
terrain = ["#00A600","#24B300","#4CBF00","#7ACC00","#ADD900","#E6E600","#E8C727","#EAB64E","#ECB176","#EEB99F","#F0CFC8","#F2F2F2"]
colorbar_ticks = [0,1,2,3,4,5]

fig = plt.figure(figsize=(W/100, H/100), dpi=100)

def axes_px(l, t, r, b):
    return fig.add_axes([l/W, 1-b/H, (r-l)/W, (b-t)/H])

def text_px(x, y, s, **kw):
    fig.text(x/W, 1-y/H, s, ha=kw.pop('ha','center'), va=kw.pop('va','center'), **kw)

def scatter_panel(top, points, core_x, core_y, title):
    bottom = top + 360
    ax = axes_px(70, top, 640, bottom)
    ax.set_facecolor('#EBEBEB')
    ax.set_xlim(-5.5, 5.5); ax.set_ylim(-5.5, 5.5)
    for s in ax.spines.values():
        s.set_visible(False)
    ax.set_xticks(scatter_ticks); ax.set_yticks(scatter_ticks)
    ax.set_xticks(scatter_minor, minor=True); ax.set_yticks(scatter_minor, minor=True)
    ax.set_xticklabels(['\u22125.0','\u22122.5','0.0','2.5','5.0'])
    ax.set_yticklabels(['\u22125.0','\u22122.5','0.0','2.5','5.0'])
    ax.grid(True, which='major', color='white', lw=1.15)
    ax.grid(True, which='minor', color='white', lw=0.6)
    ax.set_axisbelow(True)
    ax.tick_params(which='major', length=2.6, width=0.8, color='#333333', labelcolor='#4D4D4D', labelsize=10.2, pad=2)
    ax.tick_params(which='minor', length=0)
    ax.fill(core_x, core_y, color='black', lw=2, zorder=2)
    ax.scatter([p[0] for p in points], [p[1] for p in points], s=30, c='black', linewidths=0, zorder=3)
    text_px(70, top-19, title, ha='left', fontsize=13.3, color='black')
    text_px(354.7, top+391, 'Z(t\u22121)', fontsize=12.4, color='black')
    text_px(22, top+180, 'Z(t)', fontsize=12.4, rotation=90, color='black')

def density_panel(top, density, title):
    bottom = top + 302.7
    ax = axes_px(816.7, top, 1120, bottom)
    z = np.zeros((26, 26))
    z[1:25, 1:25] = np.array(density)[::-1]
    cmap = ListedColormap(terrain)
    cmap.set_over('white')
    norm = BoundaryNorm(fill_levels, 12, clip=False)
    shown = z.copy()
    shown[z == 0] = -0.25
    ax.set_facecolor(terrain[0])
    ax.pcolormesh(u_edges, u_edges, shown, cmap=cmap, norm=norm, shading='flat', linewidth=0, rasterized=True)
    ax.contour(u_grid, u_grid, z, levels=line_levels, colors='black', linewidths=0.85, linestyles='solid')
    ax.set_xlim(-0.024, 1.024); ax.set_ylim(-0.024, 1.024)
    ax.set_xticks(u_ticks); ax.set_yticks(u_ticks)
    ax.set_xticklabels(['0.0','0.2','0.4','0.6','0.8','1.0'])
    ax.set_yticklabels(['0.0','0.2','0.4','0.6','0.8','1.0'])
    ax.tick_params(length=6.5, width=0.8, labelsize=11.2, pad=5.5)
    for s in ax.spines.values():
        s.set_linewidth(0.95)
    text_px(971, top-41, title, fontsize=16.2, fontweight='bold')
    text_px(968, top+358, 'u$_1$', fontsize=12.4)
    text_px(749, top+152, 'u$_2$', fontsize=12.4, rotation=90)
    cax = axes_px(1147.7, top, 1175.3, bottom)
    cax.pcolormesh([0, 1], fill_levels, np.array([[(fill_levels[i]+fill_levels[i+1])/2] for i in range(12)]),
                   cmap=ListedColormap(terrain), norm=BoundaryNorm(fill_levels, 12), shading='flat')
    cax.set_xlim(0, 1); cax.set_ylim(-0.5, 5.5)
    cax.set_xticks([])
    cax.yaxis.tick_right()
    cax.set_yticks(colorbar_ticks)
    cax.tick_params(length=6, width=0.8, labelsize=11, pad=4.3)
    for s in cax.spines.values():
        s.set_linewidth(0.95)

scatter_panel(37, arch_points, arch_core_x, arch_core_y, 'ARCH(1) lag 1 dependence scatterplot')
scatter_panel(485, garch_points, garch_core_x, garch_core_y, 'GARCH(1,1) lag 1 dependence scatterplot')
density_panel(63.3, arch_density, 'Empirical (beta) copula density for ARCH(1) @ lag 1')
density_panel(510.7, garch_density, 'Empirical (beta) copula density for GARCH(1,1) @ lag 1')

fig.savefig('out.png', dpi=100, facecolor='white')
